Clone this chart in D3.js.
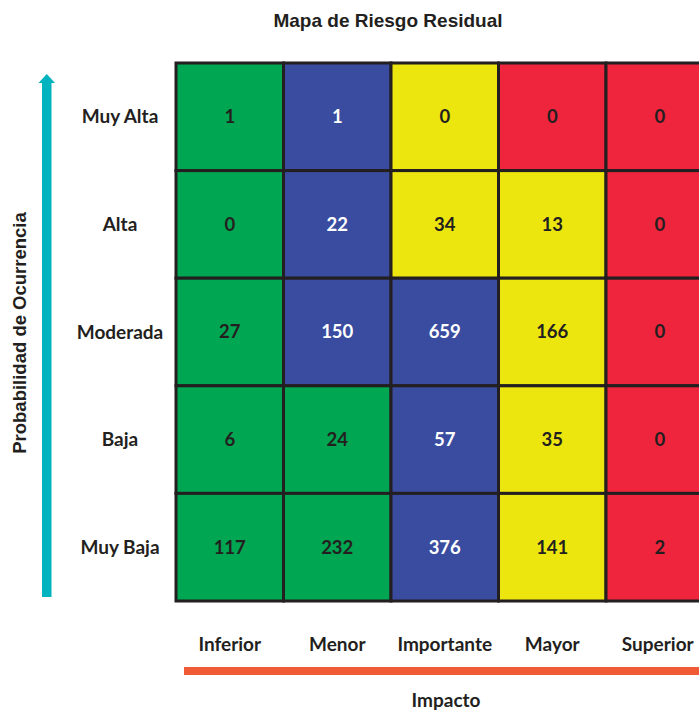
<!DOCTYPE html>
<html><head><meta charset="utf-8">
<script src="https://cdn.jsdelivr.net/npm/d3@7"></script>
<style>html,body{margin:0;padding:0;background:#fff;overflow:hidden}</style>
</head><body>
<svg id="c" width="699" height="710"></svg>
<script>
const impactLevels = ["Inferior","Menor","Importante","Mayor","Superior"];
const probLevels = ["Muy Alta","Alta","Moderada","Baja","Muy Baja"];
const valuesMuyAlta = [1,1,0,0,0];
const valuesAlta = [0,22,34,13,0];
const valuesModerada = [27,150,659,166,0];
const valuesBaja = [6,24,57,35,0];
const valuesMuyBaja = [117,232,376,141,2];
const riskMuyAlta = ["bajo","medio","alto","extremo","extremo"];
const riskAlta = ["bajo","medio","alto","alto","extremo"];
const riskModerada = ["bajo","medio","medio","alto","extremo"];
const riskBaja = ["bajo","bajo","medio","alto","extremo"];
const riskMuyBaja = ["bajo","bajo","medio","alto","extremo"];
const riskLevels = ["bajo","medio","alto","extremo"];
const title = "Mapa de Riesgo Residual";
const xTitle = "Impacto";
const yTitle = "Probabilidad de Ocurrencia";

const values = [valuesMuyAlta,valuesAlta,valuesModerada,valuesBaja,valuesMuyBaja];
const risks = [riskMuyAlta,riskAlta,riskModerada,riskBaja,riskMuyBaja];
const cells = [];
probLevels.forEach((p,i)=>impactLevels.forEach((c,j)=>cells.push({p,c,v:values[i][j],r:risks[i][j]})));

const svg = d3.select("#c");
const font = "Lato, 'Open Sans', sans-serif";
const arial = "'Liberation Sans', Arial, sans-serif";
const x = d3.scaleBand().domain(impactLevels).range([176,713.5]);
const y = d3.scaleBand().domain(probLevels).range([63,601]);
const color = d3.scaleOrdinal().domain(riskLevels).range(["#00A651","#394CA0","#EDE60E","#EE253C"]);
const textColor = d3.scaleOrdinal().domain(riskLevels).range(["#231F20","#ffffff","#231F20","#231F20"]);

svg.append("text").attr("x",388).attr("y",27).attr("text-anchor","middle")
  .attr("font-family",arial).attr("font-weight","bold")
  .attr("font-size",19).attr("fill","#231F20").text(title);

const g = svg.append("g");
g.selectAll("rect").data(cells).join("rect")
  .attr("x",d=>x(d.c)).attr("y",d=>y(d.p))
  .attr("width",x.bandwidth()).attr("height",y.bandwidth())
  .attr("fill",d=>color(d.r)).attr("stroke","#231F20").attr("stroke-width",3);
g.selectAll("text").data(cells).join("text")
  .attr("x",d=>x(d.c)+x.bandwidth()/2).attr("y",d=>y(d.p)+y.bandwidth()/2)
  .attr("dy","0.35em").attr("text-anchor","middle")
  .attr("font-family",font).attr("font-weight","bold").attr("font-size",18.5)
  .attr("fill",d=>textColor(d.r)).text(d=>d.v);

// row labels
svg.append("g").selectAll("text").data(probLevels).join("text")
  .attr("x",120).attr("y",d=>y(d)+y.bandwidth()/2).attr("dy","0.35em")
  .attr("text-anchor","middle").attr("font-family",font).attr("font-weight","bold")
  .attr("font-size",19).attr("fill","#231F20").text(d=>d);

// column labels
svg.append("g").selectAll("text").data(impactLevels).join("text")
  .attr("x",d=>x(d)+x.bandwidth()/2 - (d==="Superior"?2:0)).attr("y",644).attr("dy","0.35em")
  .attr("text-anchor","middle").attr("font-family",font).attr("font-weight","bold")
  .attr("font-size",19).attr("fill","#231F20").text(d=>d);

// orange bar
svg.append("rect").attr("x",184).attr("y",667).attr("width",520).attr("height",8).attr("fill","#F15A36");
svg.append("text").attr("x",446).attr("y",707).attr("text-anchor","middle")
  .attr("font-family",font).attr("font-weight","bold").attr("font-size",19).attr("fill","#231F20").text(xTitle);

// arrow
svg.append("rect").attr("x",42).attr("y",82).attr("width",9.5).attr("height",515).attr("fill","#00B3BE");
svg.append("path").attr("d","M38.5,83 L46.75,74 L55,83 Z").attr("fill","#00B3BE");
svg.append("text").attr("transform","translate(20,333) rotate(-90)").attr("dy","0.35em")
  .attr("text-anchor","middle").attr("font-family",arial).attr("font-weight","bold")
  .attr("font-size",18.5).attr("fill","#231F20").text(yTitle);
</script>
</body></html>
